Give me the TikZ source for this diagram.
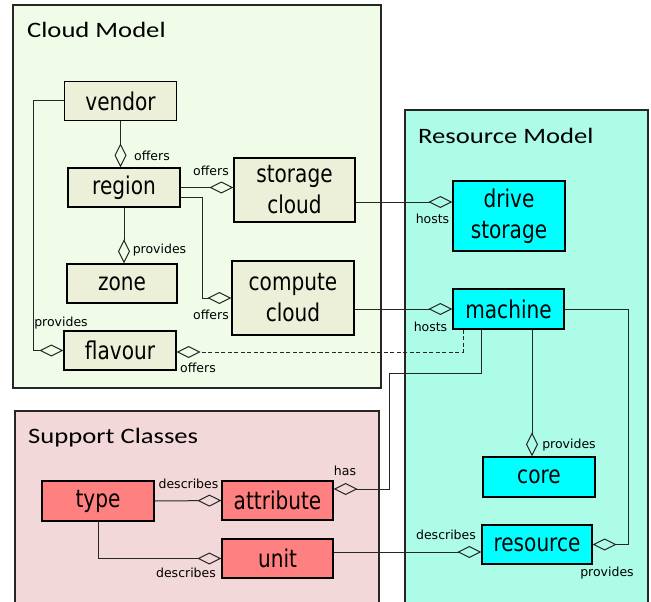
\documentclass[tikz,border=0pt]{standalone}
\usepackage{fontspec}
\setmainfont{DejaVu Sans}
\newfontfamily\titlefont{Carlito}[FakeStretch=1.21]
\newfontfamily\boxfont{DejaVu Sans}[FakeStretch=0.82]
\usetikzlibrary{arrows.meta}
\definecolor{cloudbg}{RGB}{240,252,232}
\definecolor{cloudbox}{RGB}{237,240,216}
\definecolor{resbg}{RGB}{172,252,232}
\definecolor{resbox}{RGB}{0,255,255}
\definecolor{supbg}{RGB}{242,216,216}
\definecolor{supbox}{RGB}{255,128,128}
\tikzset{
	panelstyle/.style={draw=black!85,line width=1.3pt},
	boxstyle/.style={rectangle,draw=black,line width=1.2pt,align=center,inner sep=0pt,font=\boxfont\fontsize{24.5}{31}\selectfont},
	cloudstyle/.style={boxstyle,fill=cloudbox},
	resstyle/.style={boxstyle,fill=resbox},
	supstyle/.style={boxstyle,fill=supbox},
	titlestyle/.style={anchor=base west,inner sep=0pt,font=\titlefont\fontsize{22}{26}\selectfont},
	tagstyle/.style={inner sep=0pt,font=\fontsize{12.5}{14}\selectfont},
	aggr/.style={-{Diamond[open,length=24pt,width=12pt]},line width=1pt,draw=black!85}
}

\begin{document}
\begin{tikzpicture}[x=1pt,y=-1pt]
	\useasboundingbox (0,0) rectangle (651,602);
	% the three packages
	\draw[panelstyle,fill=cloudbg] (13,5) rectangle (381,388);
	\draw[panelstyle,fill=resbg] (405,110) rectangle (648,620);
	\draw[panelstyle,fill=supbg] (15,411) rectangle (379,620);
	\node[titlestyle] (cloudtitle) at (27,38) {Cloud Model};
	\node[titlestyle] (restitle) at (418,143) {Resource Model};
	\node[titlestyle] (suptitle) at (28,443) {Support Classes};

	% cloud model classes
	\node[cloudstyle,minimum width=112,minimum height=39] (vendor) at (120.5,101) {vendor};
	\node[cloudstyle,minimum width=112,minimum height=39] (region) at (124,187.5) {region};
	\node[cloudstyle,minimum width=110,minimum height=39] (zone) at (122,283.5) {zone};
	\node[cloudstyle,minimum width=112,minimum height=39] (flavour) at (120,350.5) {flavour};
	\node[cloudstyle,minimum width=121,minimum height=64] (storage) at (294.5,190) {storage\\cloud};
	\node[cloudstyle,minimum width=122,minimum height=74] (compute) at (293,298) {compute\\cloud};

	% resource model classes
	\node[resstyle,minimum width=112,minimum height=70] (drive) at (509,216) {drive\\storage};
	\node[resstyle,minimum width=111,minimum height=40] (machine) at (508.5,309) {machine};
	\node[resstyle,minimum width=112,minimum height=40] (core) at (539,477) {core};
	\node[resstyle,minimum width=110,minimum height=39] (resource) at (537,544.5) {resource};

	% support classes
	\node[supstyle,minimum width=112,minimum height=40] (type) at (98,501) {type};
	\node[supstyle,minimum width=111,minimum height=39] (attribute) at (277.5,500.5) {attribute};
	\node[supstyle,minimum width=111,minimum height=39] (unit) at (277.5,558.5) {unit};

	\coordinate (hasbend) at (389,373);

	% aggregations
	\draw[aggr] (vendor.south) -- (vendor.south |- region.north);
	\draw[aggr] (region.east) -- (region.east -| storage.west);
	\draw[aggr] ([yshift=-10pt]region.east) -- ++(22,0) |- (compute.west);
	\draw[aggr] (region.south) -- (region.south |- zone.north);
	\draw[aggr] (vendor.west) -- ++(-30,0) |- (flavour.west);
	\draw[aggr] ([yshift=-12pt]storage.east) -- ([yshift=-12pt]storage.east -| drive.west);
	\draw[aggr] ([yshift=-11pt]compute.east) -- (machine.west);
	\draw[aggr,dash pattern=on 4pt off 2.5pt] ([xshift=-45.5pt]machine.south) |- ([yshift=-1.5pt]flavour.east);
	\draw[aggr] ([xshift=-27.5pt]machine.south) |- (hasbend) |- ([yshift=11.5pt]attribute.east);
	\draw[aggr] ([xshift=23.5pt]machine.south) -- ([xshift=23.5pt]machine.south |- core.north);
	\draw[aggr] (machine.east) -- ++(64,0) |- (resource.east);
	\draw[aggr] ([yshift=6.5pt]unit.east) -- ([yshift=6.5pt]unit.east -| resource.west);
	\draw[aggr] (type.east) -- (attribute.west);
	\draw[aggr] (type.south) |- (unit.west);

	% role names
	\node[tagstyle] (t1) at (152,156) {offers};
	\node[tagstyle] (t2) at (211,171) {offers};
	\node[tagstyle] (t3) at (211,315) {offers};
	\node[tagstyle] (t4) at (159.5,250) {provides};
	\node[tagstyle] (t5) at (61,323) {provides};
	\node[tagstyle] (t6) at (198,368) {offers};
	\node[tagstyle] (t7) at (432.5,219) {hosts};
	\node[tagstyle] (t8) at (430.5,327) {hosts};
	\node[tagstyle] (t9) at (569,445) {provides};
	\node[tagstyle] (t10) at (607,573) {provides};
	\node[tagstyle] (t11) at (446,535) {describes};
	\node[tagstyle] (t12) at (345,471) {has};
	\node[tagstyle] (t13) at (188.5,484) {describes};
	\node[tagstyle] (t14) at (186,573) {describes};
\end{tikzpicture}
\end{document}
